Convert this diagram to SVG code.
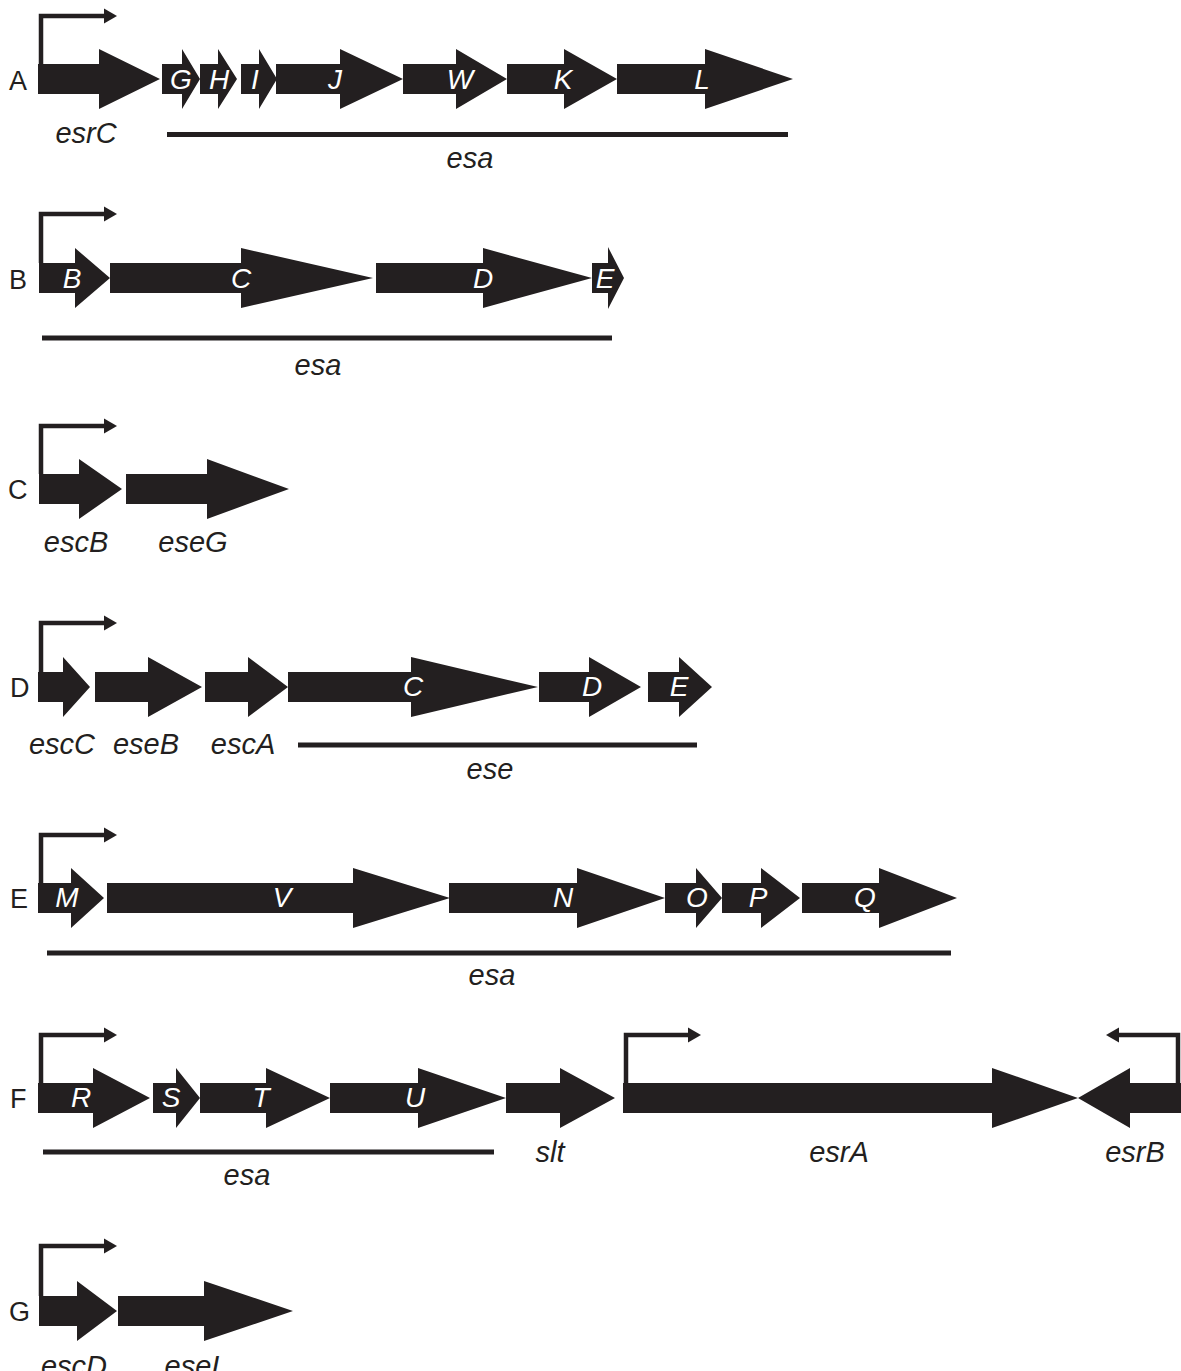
<svg xmlns="http://www.w3.org/2000/svg" width="1181" height="1371" viewBox="0 0 1181 1371">
<style>
.g{fill:#231f20}
.ln{stroke:#231f20;stroke-width:5;fill:none}
.pr{stroke:#231f20;stroke-width:4.5;fill:none}
.ah{fill:#231f20}
.row{font-family:"Liberation Sans",Arial,sans-serif;font-size:27px;fill:#231f20}
.gl{font-family:"Liberation Sans",Arial,sans-serif;font-size:28px;font-style:italic;fill:#ffffff;text-anchor:middle}
.it{font-family:"Liberation Sans",Arial,sans-serif;font-size:29px;font-style:italic;fill:#231f20;text-anchor:middle}
</style>
<rect width="1181" height="1371" fill="#ffffff"/>

<!-- Row A -->
<g id="rowA">
<text class="row" x="9" y="90">A</text>
<g id="A-promoter"><polyline class="pr" points="41,64 41,16 106,16"/><polygon class="ah" points="104,8.5 117,16 104,23.5"/></g>
<g id="A-esrC"><polygon class="g" points="38,64 99,64 99,49 160,79 99,109 99,94 38,94"/></g>
<g id="A-G"><polygon class="g" points="162,64 182,64 182,49 200,79 182,109 182,94 162,94"/><text class="gl" x="181" y="89">G</text></g>
<g id="A-H"><polygon class="g" points="200,64 218,64 218,49 237,79 218,109 218,94 200,94"/><text class="gl" x="219" y="89">H</text></g>
<g id="A-I"><polygon class="g" points="241,64 259,64 259,49 277,79 259,109 259,94 241,94"/><text class="gl" x="255" y="89">I</text></g>
<g id="A-J"><polygon class="g" points="276,64 340,64 340,49 403,79 340,109 340,94 276,94"/><text class="gl" x="335" y="89">J</text></g>
<g id="A-W"><polygon class="g" points="403,64 456,64 456,49 507,79 456,109 456,94 403,94"/><text class="gl" x="460" y="89">W</text></g>
<g id="A-K"><polygon class="g" points="507,64 564,64 564,49 617,79 564,109 564,94 507,94"/><text class="gl" x="563" y="89">K</text></g>
<g id="A-L"><polygon class="g" points="617,64 705,64 705,49 793,79 705,109 705,94 617,94"/><text class="gl" x="702" y="89">L</text></g>
<text class="it" x="86" y="143">esrC</text>
<g id="A-esa"><line class="ln" x1="167" y1="134.5" x2="788" y2="134.5"/><text class="it" x="470" y="168">esa</text></g>
</g>

<!-- Row B -->
<g id="rowB">
<text class="row" x="9" y="289">B</text>
<g id="B-promoter"><polyline class="pr" points="41,263 41,214 106,214"/><polygon class="ah" points="104,206.5 117,214 104,221.5"/></g>
<g id="B-B"><polygon class="g" points="39,263 75,263 75,248 110,278 75,308 75,293 39,293"/><text class="gl" x="72" y="288">B</text></g>
<g id="B-C"><polygon class="g" points="110,263 241,263 241,248 373,278 241,308 241,293 110,293"/><text class="gl" x="241" y="288">C</text></g>
<g id="B-D"><polygon class="g" points="376,263 483,263 483,248 592,278 483,308 483,293 376,293"/><text class="gl" x="483" y="288">D</text></g>
<g id="B-E"><polygon class="g" points="592,263 608,263 608,247 624,278 608,309 608,293 592,293"/><text class="gl" x="605" y="288">E</text></g>
<g id="B-esa"><line class="ln" x1="42" y1="338" x2="612" y2="338"/><text class="it" x="318" y="375">esa</text></g>
</g>

<!-- Row C -->
<g id="rowC">
<text class="row" x="8" y="499">C</text>
<g id="C-promoter"><polyline class="pr" points="41,474 41,426 106,426"/><polygon class="ah" points="104,418.5 117,426 104,433.5"/></g>
<g id="C-escB"><polygon class="g" points="39,474 79,474 79,459 122,489 79,519 79,504 39,504"/></g>
<g id="C-eseG"><polygon class="g" points="126,474 207,474 207,459 289,489 207,519 207,504 126,504"/></g>
<text class="it" x="76" y="552">escB</text>
<text class="it" x="193" y="552">eseG</text>
</g>

<!-- Row D -->
<g id="rowD">
<text class="row" x="10" y="697">D</text>
<g id="D-promoter"><polyline class="pr" points="41,672 41,623 106,623"/><polygon class="ah" points="104,615.5 117,623 104,630.5"/></g>
<g id="D-escC"><polygon class="g" points="38,672 63,672 63,657 90,687 63,717 63,702 38,702"/></g>
<g id="D-eseB"><polygon class="g" points="95,672 148,672 148,657 202,687 148,717 148,702 95,702"/></g>
<g id="D-escA"><polygon class="g" points="205,672 248,672 248,657 288,687 248,717 248,702 205,702"/></g>
<g id="D-C"><polygon class="g" points="288,672 411,672 411,657 538,687 411,717 411,702 288,702"/><text class="gl" x="413" y="696">C</text></g>
<g id="D-D"><polygon class="g" points="539,672 589,672 589,657 641,687 589,717 589,702 539,702"/><text class="gl" x="592" y="696">D</text></g>
<g id="D-E"><polygon class="g" points="648,672 679,672 679,657 712,687 679,717 679,702 648,702"/><text class="gl" x="679" y="696">E</text></g>
<text class="it" x="62" y="754">escC</text>
<text class="it" x="146" y="754">eseB</text>
<text class="it" x="243" y="754">escA</text>
<g id="D-ese"><line class="ln" x1="298" y1="745" x2="697" y2="745"/><text class="it" x="490" y="779">ese</text></g>
</g>

<!-- Row E -->
<g id="rowE">
<text class="row" x="10" y="908">E</text>
<g id="E-promoter"><polyline class="pr" points="41,883 41,835 106,835"/><polygon class="ah" points="104,827.5 117,835 104,842.5"/></g>
<g id="E-M"><polygon class="g" points="38,883 71,883 71,868 104,898 71,928 71,913 38,913"/><text class="gl" x="67" y="907">M</text></g>
<g id="E-V"><polygon class="g" points="107,883 353,883 353,868 450,898 353,928 353,913 107,913"/><text class="gl" x="282" y="907">V</text></g>
<g id="E-N"><polygon class="g" points="449,883 577,883 577,868 665,898 577,928 577,913 449,913"/><text class="gl" x="563" y="907">N</text></g>
<g id="E-O"><polygon class="g" points="665,883 696,883 696,868 722,898 696,928 696,913 665,913"/><text class="gl" x="697" y="907">O</text></g>
<g id="E-P"><polygon class="g" points="722,883 761,883 761,868 800,898 761,928 761,913 722,913"/><text class="gl" x="758" y="907">P</text></g>
<g id="E-Q"><polygon class="g" points="802,883 879,883 879,868 957,898 879,928 879,913 802,913"/><text class="gl" x="865" y="907">Q</text></g>
<g id="E-esa"><line class="ln" x1="47" y1="953" x2="951" y2="953"/><text class="it" x="492" y="985">esa</text></g>
</g>

<!-- Row F -->
<g id="rowF">
<text class="row" x="10" y="1108">F</text>
<g id="F-promoter"><polyline class="pr" points="41,1083 41,1035 106,1035"/><polygon class="ah" points="104,1027.5 117,1035 104,1042.5"/></g>
<g id="F-R"><polygon class="g" points="38,1083 93,1083 93,1068 150,1098 93,1128 93,1113 38,1113"/><text class="gl" x="81" y="1107">R</text></g>
<g id="F-S"><polygon class="g" points="153,1083 176,1083 176,1068 200,1098 176,1128 176,1113 153,1113"/><text class="gl" x="171" y="1107">S</text></g>
<g id="F-T"><polygon class="g" points="200,1083 266,1083 266,1068 330,1098 266,1128 266,1113 200,1113"/><text class="gl" x="261" y="1107">T</text></g>
<g id="F-U"><polygon class="g" points="330,1083 418,1083 418,1068 506,1098 418,1128 418,1113 330,1113"/><text class="gl" x="415" y="1107">U</text></g>
<g id="F-slt"><polygon class="g" points="506,1083 560,1083 560,1068 615,1098 560,1128 560,1113 506,1113"/><text class="it" x="550" y="1162">slt</text></g>
<g id="F-esrA-promoter"><polyline class="pr" points="626,1083 626,1035 690,1035"/><polygon class="ah" points="688,1027.5 701,1035 688,1042.5"/></g>
<g id="F-esrA"><polygon class="g" points="623,1083 992,1083 992,1068 1078,1098 992,1128 992,1113 623,1113"/><text class="it" x="839" y="1162">esrA</text></g>
<g id="F-esrB-promoter"><polyline class="pr" points="1178,1083 1178,1035 1117,1035"/><polygon class="ah" points="1119,1027.5 1106,1035 1119,1042.5"/></g>
<g id="F-esrB"><polygon class="g" points="1078,1098 1130,1068 1130,1083 1185,1083 1185,1113 1130,1113 1130,1128"/><text class="it" x="1135" y="1162">esrB</text></g>
<g id="F-esa"><line class="ln" x1="43" y1="1152" x2="494" y2="1152"/><text class="it" x="247" y="1185">esa</text></g>
</g>

<!-- Row G -->
<g id="rowG">
<text class="row" x="9" y="1321">G</text>
<g id="G-promoter"><polyline class="pr" points="41,1296 41,1246 106,1246"/><polygon class="ah" points="104,1238.5 117,1246 104,1253.5"/></g>
<g id="G-escD"><polygon class="g" points="39,1296 77,1296 77,1281 117,1311 77,1341 77,1326 39,1326"/></g>
<g id="G-eseI"><polygon class="g" points="118,1296 204,1296 204,1281 293,1311 204,1341 204,1326 118,1326"/></g>
<text class="it" x="74" y="1376">escD</text>
<text class="it" x="192" y="1376">eseI</text>
</g>
</svg>
